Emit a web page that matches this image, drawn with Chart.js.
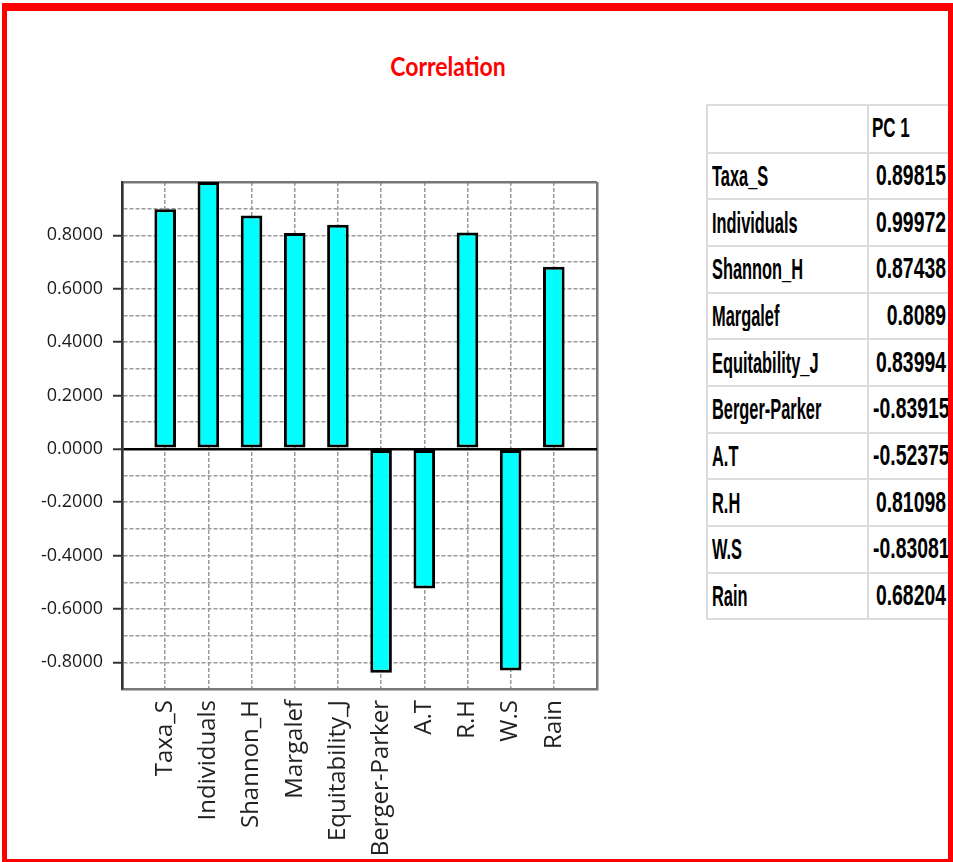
<!DOCTYPE html>
<html>
<head>
<meta charset="utf-8">
<script src="https://cdn.jsdelivr.net/npm/chart.js@4.4.1/dist/chart.umd.min.js"></script>
<style>
  html, body { margin:0; padding:0; background:#fff; }
  body { width:953px; height:862px; position:relative; overflow:hidden; }
  #title { position:absolute; left:0; top:55px; width:896px; text-align:center;
           font-family:Lato, "Open Sans", sans-serif; font-weight:bold; font-size:23px;
           line-height:23px; color:#ff0000; transform:scaleY(1.15); }
  #c { position:absolute; left:0; top:0; }
  #tbl { position:absolute; left:706px; top:104px; width:243px; border-collapse:collapse;
         table-layout:fixed; font-family:"Liberation Sans", Arial, sans-serif; font-weight:bold; color:#000; }
  #tbl td { border:2px solid #dcdcdc; padding:0 3px 0 4px; vertical-align:middle; white-space:nowrap; overflow:visible; }
  #tbl td span { display:inline-block; line-height:1; }
  #tbl td.lab span { font-size:16.4px; transform:scaleY(1.79); transform-origin:50% 50%; }
  #tbl td.num { text-align:right; }
  #tbl td.num span { font-size:19.4px; transform:scaleY(1.51); transform-origin:50% 50%; }
  #tbl td.hdr { text-align:left; padding-left:3px; }
  #tbl td.hdr span { font-size:17px; transform:scaleY(1.6); transform-origin:50% 50%; }
  #frame { position:absolute; left:2px; top:3px; width:951px; height:861px; box-sizing:border-box;
           border-style:solid; border-color:#ff0000; border-width:8px 5px 5px 5px; pointer-events:none; z-index:10; }
</style>
</head>
<body>
<div id="title">Correlation</div>
<canvas id="c" width="700" height="862"></canvas>
<table id="tbl"><colgroup><col style="width:161px"><col style="width:82px"></colgroup><tbody id="tb"></tbody></table>
<div id="frame"></div>
<script>
// ---- data ----
const categories = ['Taxa_S','Individuals','Shannon_H','Margalef','Equitability_J','Berger-Parker','A.T','R.H','W.S','Rain'];
const pc1 = [0.89815, 0.99972, 0.87438, 0.8089, 0.83994, -0.83915, -0.52375, 0.81098, -0.83081, 0.68204];
const tableHeader = ['', 'PC 1'];
const yGridValues = [-0.8,-0.7,-0.6,-0.5,-0.4,-0.3,-0.2,-0.1,0,0.1,0.2,0.3,0.4,0.5,0.6,0.7,0.8,0.9,1.0];
const yLabelValues = [-0.8,-0.6,-0.4,-0.2,0,0.2,0.4,0.6,0.8];

// ---- table ----
const tb = document.getElementById('tb');
function addRow(cells, classes, h) {
  const tr = document.createElement('tr');
  tr.style.height = h + 'px';
  cells.forEach((t, i) => {
    const td = document.createElement('td');
    td.className = classes[i];
    const sp = document.createElement('span');
    sp.textContent = t;
    td.appendChild(sp);
    tr.appendChild(td);
  });
  tb.appendChild(tr);
}
addRow(tableHeader, ['lab', 'hdr'], 47.7);
categories.forEach((c, i) => addRow([c, String(pc1[i])], ['lab', 'num'], 46.67));

// ---- chart ----
const isLabeled = v => yLabelValues.some(l => Math.abs(l - v) < 1e-9);
const frameColor = '#777';
const gridColor = '#9a9a9a';

new Chart(document.getElementById('c').getContext('2d'), {
  type: 'bar',
  data: {
    datasets: [{
      data: pc1.map((v, i) => ({ x: i + 1, y: v })),
      backgroundColor: '#00ffff',
      borderColor: '#000000',
      borderWidth: 3,
      borderSkipped: false,
      barPercentage: 0.5,
      categoryPercentage: 1.0
    }]
  },
  options: {
    responsive: false,
    animation: false,
    layout: { padding: { top: 182, right: 103, left: 0, bottom: 0 } },
    plugins: { legend: { display: false }, tooltip: { enabled: false }, title: { display: false } },
    scales: {
      x: {
        type: 'linear', min: 0, max: 11, offset: false,
        afterFit: s => { s.height = 173; },
        grid: {
          offset: false,
          color: c => (c.tick && (c.tick.value === 0 || c.tick.value === 11)) ? frameColor : gridColor,
          lineWidth: c => (c.tick && (c.tick.value === 0 || c.tick.value === 11)) ? 2.5 : 1.5,
          drawTicks: true, tickLength: 8, tickColor: 'rgba(0,0,0,0)'
        },
        border: {
          display: true, color: frameColor, width: 2.5,
          dash: c => (c.tick && c.tick.value > 0 && c.tick.value < 11) ? [4, 2] : []
        },
        ticks: {
          stepSize: 1, autoSkip: false, maxRotation: 90, minRotation: 90, padding: 3,
          font: { family: 'Open Sans', size: 24 }, color: '#222',
          callback: v => categories[v - 1] || ''
        }
      },
      y: {
        min: -0.9, max: 1.0,
        afterBuildTicks: s => { s.ticks = yGridValues.map(v => ({ value: v })); },
        afterFit: s => { s.width = 122; },
        grid: {
          color: c => {
            if (!c.tick) return gridColor;
            if (Math.abs(c.tick.value) < 1e-9) return '#000';
            if (Math.abs(c.tick.value - 1) < 1e-9) return frameColor;
            return gridColor;
          },
          lineWidth: c => {
            if (!c.tick) return 1.5;
            if (Math.abs(c.tick.value) < 1e-9) return 2.5;
            if (Math.abs(c.tick.value - 1) < 1e-9) return 2.5;
            return 1.5;
          },
          tickLength: 9, tickWidth: 2,
          tickColor: c => (c.tick && isLabeled(c.tick.value)) ? '#333' : 'rgba(0,0,0,0)'
        },
        border: {
          display: true, color: '#333', width: 2.5,
          dash: c => {
            if (!c.tick) return [];
            if (Math.abs(c.tick.value) < 1e-9 || Math.abs(c.tick.value - 1) < 1e-9) return [];
            return [4, 2];
          }
        },
        ticks: {
          autoSkip: false, padding: 10,
          font: { family: 'Open Sans', size: 18 }, color: '#1a1a1a',
          callback: v => isLabeled(v) ? v.toFixed(4) : ''
        }
      }
    }
  }
});
</script>
</body>
</html>
